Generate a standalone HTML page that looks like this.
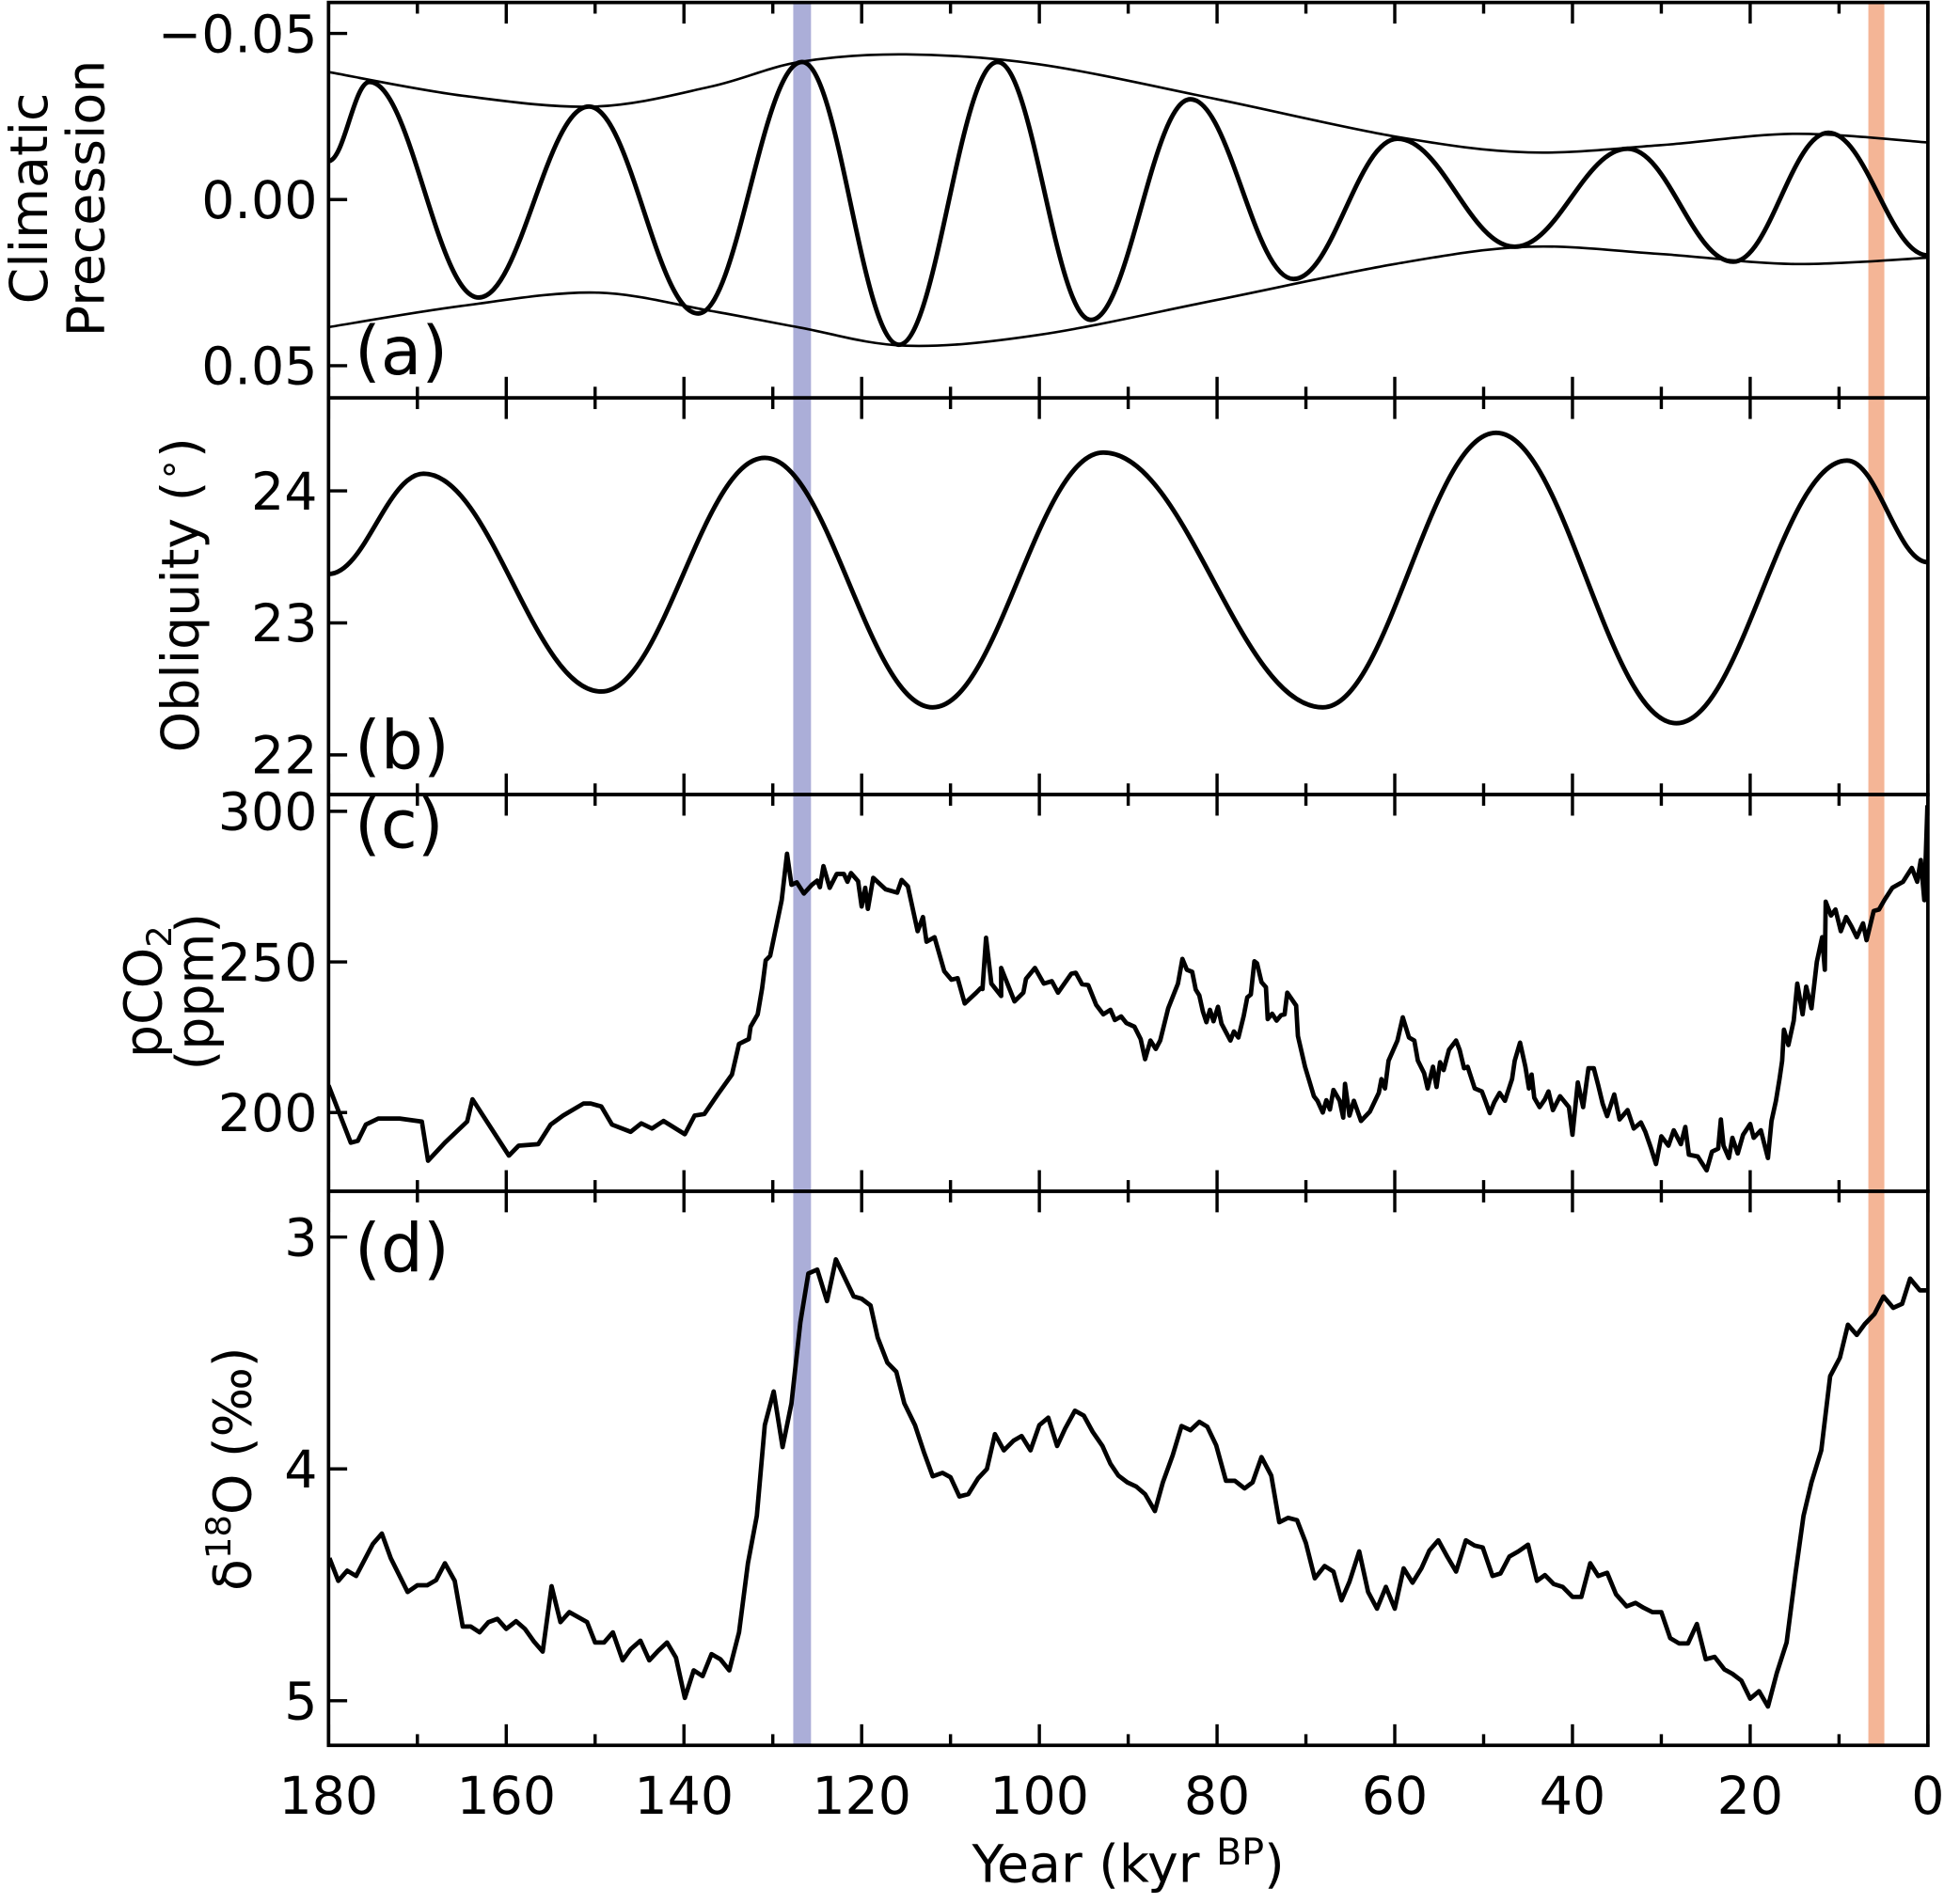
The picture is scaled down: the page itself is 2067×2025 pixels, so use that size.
<!DOCTYPE html>
<html><head><meta charset="utf-8"><title>Orbital forcing, CO2 and δ18O</title>
<style>
html,body{margin:0;padding:0;background:#fff;}
svg{display:block;font-family:"DejaVu Sans","Liberation Sans",sans-serif;}
</style></head>
<body>
<svg id="chart" xmlns="http://www.w3.org/2000/svg" width="2067" height="2025" viewBox="0 0 1568 1536" preserveAspectRatio="none">
<defs>
<clipPath id="clipA"><rect x="265" y="2" width="1290" height="319"/></clipPath>
<clipPath id="clipB"><rect x="265" y="321" width="1290" height="320"/></clipPath>
<clipPath id="clipC"><rect x="265" y="641" width="1290" height="320"/></clipPath>
<clipPath id="clipD"><rect x="265" y="961" width="1290" height="447"/></clipPath>
</defs>
<g id="bands"></g>
<g id="series"></g>
<g id="axes"></g>
<g id="labels">
<text transform="translate(38,160) rotate(-90)" text-anchor="middle" font-size="42">Climatic</text>
<text transform="translate(84,160) rotate(-90)" text-anchor="middle" font-size="42">Precession</text>
<text transform="translate(160,480) rotate(-90)" text-anchor="middle" font-size="42">Obliquity (<tspan font-size="30" dy="-14">∘</tspan><tspan dy="14">)</tspan></text>
<text transform="translate(130,800) rotate(-90)" text-anchor="middle" font-size="42">pCO<tspan font-size="28" dy="8">2</tspan></text>
<text transform="translate(172,800) rotate(-90)" text-anchor="middle" font-size="42">(ppm)</text>
<text transform="translate(202,1185) rotate(-90)" text-anchor="middle" font-size="42">δ<tspan font-size="28" dy="-16">18</tspan><tspan dy="16">O (‰)</tspan></text>
<text x="910" y="1518" text-anchor="middle" font-size="42">Year (kyr <tspan font-size="30" dy="-14">BP</tspan><tspan dy="14">)</tspan></text>
<text x="286" y="302" font-size="54">(a)</text>
<text x="286" y="620" font-size="54">(b)</text>
<text x="286" y="684" font-size="54">(c)</text>
<text x="286" y="1026" font-size="54">(d)</text>
</g>
</svg>
<script>
// ---- data ----
const precExtremaKyr = [180, 175.4, 163.1, 150.7, 138.4, 126.7, 115.8, 104.7, 94.2, 83.0, 71.4, 59.7, 46.5, 33.8, 21.9, 11.2, 0];
const precExtremaVal = [-0.0116, -0.0354, 0.0295, -0.028, 0.0343, -0.0414, 0.0437, -0.0414, 0.0362, -0.0302, 0.0239, -0.0183, 0.0142, -0.0153, 0.0187, -0.0201, 0.0168];
const envKyr = [180, 165, 150, 137, 127, 115, 100, 80, 60, 45, 30, 15, 0];
const envUpper = [-0.0384, -0.0313, -0.028, -0.034, -0.0414, -0.0437, -0.0407, -0.0302, -0.019, -0.0142, -0.0164, -0.0198, -0.0172];
const envLower = [0.0384, 0.032, 0.028, 0.0335, 0.0385, 0.044, 0.0407, 0.0302, 0.0194, 0.0142, 0.0164, 0.0194, 0.0175];
const oblExtremaKyr = [180, 169.3, 149.3, 130.9, 112.0, 92.8, 68.1, 48.6, 28.3, 9.1, 0];
const oblExtremaVal = [23.37, 24.13, 22.48, 24.25, 22.36, 24.29, 22.36, 24.44, 22.24, 24.23, 23.46];
const co2Kyr = [180,177.5,176.7,175.8,174.4,172,169.5,168.8,166.9,164.4,163.8,159.7,158.6,156.4,155,153.6,151.3,150.5,149.3,148.1,146,144.8,143.6,142.3,139.9,138.8,137.7,136.2,134.6,133.8,132.7,132.5,131.7,131.2,130.8,130.3,129,128.4,127.9,127.3,126.5,125.6,125,124.7,124.3,123.6,122.8,122,121.6,121.2,120.4,120,119.6,119.3,118.7,117.3,116,115.5,114.8,113.7,113.1,112.7,111.8,110.7,109.9,109.2,108.4,107.1,106.6,106.4,106,105.4,104.3,104.3,102.8,101.8,101.5,100.5,99.5,98.6,97.9,96.4,95.9,95.2,94.5,93.6,92.8,92,91.5,90.8,90.2,89.3,88.6,88.1,87.5,86.9,86.4,85.5,84.4,83.9,83.4,82.8,82.4,82,81.6,81.2,80.8,80.4,79.9,79.5,78.5,78.1,77.6,77,76.6,76.2,75.8,75.5,75,74.5,74.3,73.8,73.3,72.8,72.4,72.1,71.1,70.9,70.1,69.1,68.7,68.1,67.7,67.3,66.9,66.2,65.8,65.6,65.1,64.6,63.8,62.8,61.8,61.5,61.1,60.7,59.7,59.1,58.4,57.8,57.4,56.7,56.3,55.7,55.3,54.9,54.5,53.9,53.1,52.7,52.2,51.8,51,50.2,49.8,49.3,48.8,48.2,47.6,46.8,46.5,45.9,45.3,44.9,44.6,44.3,43.7,43.1,42.7,42.2,41.4,40.4,40,39.4,38.8,38.2,37.6,37.1,36.6,36.1,35.3,34.7,33.8,33.1,32.3,31.8,31.2,30.6,30,29.2,28.6,27.8,27.3,26.9,25.9,24.9,24.3,23.6,23.3,23,22.4,22,21.4,20.8,20,19.6,18.8,18,17.6,17.1,16.7,16.4,16.2,15.7,15.1,14.7,14.1,13.7,13.1,12.5,11.9,11.6,11.5,10.9,10.4,9.8,9.2,8.6,8,7.3,6.9,6.1,5.5,4.9,4,2.8,1.8,1.2,0.8,0.4,0.05];
const co2Ppm = [209,190,190.6,196,198,198,197,184,190,197,204.4,185.7,189,189.5,196,199,203,203,202,196,193.6,196.4,194.7,197.2,192.8,199,199.5,206,212.6,222.8,224.4,228.5,232.6,241.3,250.5,252,270.5,285.9,275.6,276.4,272.7,275.6,277,274.8,281.8,274.6,279.2,279.2,276.6,279.5,276.8,268.4,274.6,267.6,277.9,274.1,273,277.2,275.1,260.2,264.9,256.7,258.2,246.9,244.1,244.6,236.2,239.8,241.3,241,258,242.8,238.7,248,236.9,239.8,244.4,248,242.8,243.6,239.8,246.1,246.4,242.6,242.3,235.7,232.6,234.1,230.7,231.9,229.7,228.5,224.4,217.7,223.9,221.1,223.9,234.6,242.8,251,247.4,246.7,240.8,238.9,233.6,230,234.1,230.3,235.1,229.5,223.9,226.9,224.9,232.1,238.2,239.2,250.2,249.5,243.3,241.6,231,232.8,230.5,232.3,232.6,239.8,235.5,225.4,215.2,205.4,203.9,200,204.1,201,207.5,203.9,198.3,209.5,199,203.9,197.2,200.3,206.5,211.1,208,217.2,223.9,231.6,224.9,223.9,217.2,213.1,208,215.2,208.5,216.7,214.1,220.8,223.9,220.8,214.7,215.2,208,207,203.9,199.8,203.4,206.5,203.9,211.1,217.2,223.2,215.2,208,212.6,204.9,201.8,204.4,207,200.8,205.4,201.8,192.6,210,201.8,214.7,214.7,209,202.9,198.8,206,197.7,200.8,194.7,196.7,193.6,188.5,182.9,192.1,189,194.1,189.5,195.2,186,185.4,180.8,187,188,197.7,189,184.9,191.6,186.4,192.6,196.2,191.6,194.1,184.9,197.2,203.9,211.1,217.2,227.5,222.4,230.5,242.8,232.6,241.8,234.6,250,258.2,247.4,270,265.4,267.4,260.2,264.9,261.8,258.2,262.8,257.2,266.9,267.4,270.5,274.6,276.6,281.2,276.6,283.8,270.5,302];
const d18oKyr = [179.9,178.9,177.9,176.9,175,174,173,171.1,170,168.9,167.9,166.9,165.8,164.9,164,163,162,161,160,158.9,157.9,156.9,155.9,154.9,153.9,152.9,150.9,150,149,148,146.9,146,144.9,143.9,142.9,141.9,140.9,139.9,138.9,137.9,136.9,135.9,134.9,133.8,132.8,131.8,130.9,129.9,128.9,127.9,126.9,126,125,123.9,122.9,120.9,120,119,118.2,117.1,116.1,115.2,114,113,112,110.9,110,109,108,106.9,105.9,105,104,102.9,102,101,100,99,98,97.1,96,95,94,92.9,92,91.1,90.1,89.1,88.1,87,86.1,85,84,83,82,81.1,80.1,79,78,76.9,76,75,73.9,73,72,71,70,69,67.9,66.9,66,65.1,64,63,62,61,60,59,58,57,56.1,55.1,54.1,53.1,52,51,50.1,49,48.1,47.1,46.1,45,44,43.1,42.1,41.1,40,39,38,37.1,36.1,35.1,33.9,32.9,32,31,30,29,28,27,26,25,24,22.9,22,21,20,19,18,17,15.9,14.9,14,13.1,12,11,9.9,9,8,7.1,6,5,3.9,2.9,2,0.9,0.2];
const d18oVal = [4.385,4.483,4.439,4.462,4.323,4.279,4.385,4.531,4.502,4.502,4.48,4.407,4.483,4.68,4.68,4.705,4.661,4.647,4.69,4.657,4.69,4.744,4.788,4.506,4.661,4.618,4.661,4.749,4.749,4.705,4.826,4.778,4.741,4.826,4.785,4.749,4.814,4.988,4.869,4.894,4.799,4.821,4.869,4.705,4.407,4.203,3.811,3.666,3.906,3.717,3.368,3.157,3.14,3.276,3.096,3.256,3.266,3.295,3.433,3.542,3.581,3.717,3.811,3.927,4.032,4.017,4.036,4.119,4.109,4.041,4,3.85,3.92,3.878,3.858,3.92,3.811,3.779,3.901,3.826,3.749,3.77,3.84,3.901,3.978,4.029,4.058,4.076,4.109,4.182,4.058,3.942,3.815,3.833,3.797,3.818,3.898,4.051,4.051,4.084,4.058,3.949,4.029,4.23,4.211,4.221,4.32,4.472,4.419,4.443,4.567,4.487,4.356,4.531,4.603,4.509,4.603,4.429,4.491,4.429,4.352,4.308,4.378,4.443,4.308,4.331,4.339,4.462,4.451,4.378,4.356,4.327,4.483,4.458,4.497,4.509,4.552,4.552,4.407,4.462,4.448,4.541,4.593,4.578,4.599,4.618,4.618,4.73,4.753,4.753,4.669,4.821,4.811,4.865,4.884,4.913,4.991,4.959,5.025,4.88,4.749,4.451,4.203,4.058,3.92,3.6,3.52,3.378,3.422,3.375,3.331,3.256,3.305,3.288,3.179,3.23,3.23];
const xTicks = [180,160,140,120,100,80,60,40,20,0];
const precTicks = [-0.05, 0, 0.05];
const precTickLabels = ["\u22120.05","0.00","0.05"];
const oblTicks = [22,23,24];
const co2Ticks = [200,250,300];
const d18oTicks = [3,4,5];
const bandBlue = [127.7, 125.7];
const bandOrange = [6.7, 4.9];

// ---- scales ----
const L = 265, R = 1555;
const xs = k => R - (k / 180) * (R - L);
const panels = {
  a:{top:2,bottom:321,y:v=>161+v*2680,clip:"clipA"},
  b:{top:321,bottom:641,y:v=>396+(24-v)*106.5,clip:"clipB"},
  c:{top:641,bottom:961,y:v=>776+(250-v)*2.43,clip:"clipC"},
  d:{top:961,bottom:1408,y:v=>1185+(v-4)*187,clip:"clipD"}
};
const NS = "http://www.w3.org/2000/svg";
function mk(tag, attrs, parent){
  const e = document.createElementNS(NS, tag);
  for (const k in attrs) e.setAttribute(k, attrs[k]);
  parent.appendChild(e); return e;
}
const gBands = document.getElementById('bands');
const gSeries = document.getElementById('series');
const gAxes = document.getElementById('axes');

let b1 = mk('rect',{x:xs(bandBlue[0]),y:2,width:xs(bandBlue[1])-xs(bandBlue[0]),height:1406,fill:'#abaed8'},gBands);


let b2 = mk('rect',{x:xs(bandOrange[0]),y:2,width:xs(bandOrange[1])-xs(bandOrange[0]),height:1406,fill:'#f4b596'},gBands);



function extremaPath(ks, vs, yf){
  let d = 'M'+xs(ks[0]).toFixed(2)+','+yf(vs[0]).toFixed(2);
  for (let i=1;i<ks.length;i++){
    const x0=xs(ks[i-1]), x1=xs(ks[i]), y0=yf(vs[i-1]), y1=yf(vs[i]);
    const dx=(x1-x0)*0.38;
    d += ' C'+(x0+dx).toFixed(2)+','+y0.toFixed(2)+' '+(x1-dx).toFixed(2)+','+y1.toFixed(2)+' '+x1.toFixed(2)+','+y1.toFixed(2);
  }
  return d;
}
function catmull(ks, vs, yf){
  const P = ks.map((k,i)=>[xs(k), yf(vs[i])]);
  let d='M'+P[0][0].toFixed(2)+','+P[0][1].toFixed(2);
  for (let i=0;i<P.length-1;i++){
    const p0=P[Math.max(0,i-1)], p1=P[i], p2=P[i+1], p3=P[Math.min(P.length-1,i+2)];
    const c1=[p1[0]+(p2[0]-p0[0])/6, p1[1]+(p2[1]-p0[1])/6];
    const c2=[p2[0]-(p3[0]-p1[0])/6, p2[1]-(p3[1]-p1[1])/6];
    d+=' C'+c1[0].toFixed(2)+','+c1[1].toFixed(2)+' '+c2[0].toFixed(2)+','+c2[1].toFixed(2)+' '+p2[0].toFixed(2)+','+p2[1].toFixed(2);
  }
  return d;
}
function linePath(ks, vs, yf){
  return ks.map((k,i)=>(i?'L':'M')+xs(k).toFixed(2)+','+yf(vs[i]).toFixed(2)).join(' ');
}

let p;
p = mk('path',{d:catmull(envKyr,envUpper,panels.a.y),fill:'none',stroke:'#000','stroke-width':2,'clip-path':'url(#clipA)'},gSeries);


p = mk('path',{d:catmull(envKyr,envLower,panels.a.y),fill:'none',stroke:'#000','stroke-width':2,'clip-path':'url(#clipA)'},gSeries);


p = mk('path',{d:extremaPath(precExtremaKyr,precExtremaVal,panels.a.y),fill:'none',stroke:'#000','stroke-width':3.7,'clip-path':'url(#clipA)'},gSeries);


p = mk('path',{d:extremaPath(oblExtremaKyr,oblExtremaVal,panels.b.y),fill:'none',stroke:'#000','stroke-width':3.7,'clip-path':'url(#clipB)'},gSeries);


p = mk('path',{d:linePath(co2Kyr,co2Ppm,panels.c.y),fill:'none',stroke:'#000','stroke-width':3.6,'stroke-linejoin':'round','clip-path':'url(#clipC)'},gSeries);


p = mk('path',{d:linePath(d18oKyr,d18oVal,panels.d.y),fill:'none',stroke:'#000','stroke-width':3.6,'stroke-linejoin':'round','clip-path':'url(#clipD)'},gSeries);



const yTickSets = {a:[precTicks,precTickLabels],b:[oblTicks,oblTicks.map(String)],c:[co2Ticks,co2Ticks.map(String)],d:[d18oTicks,d18oTicks.map(String)]};
for (const key of ['a','b','c','d']){
  const P = panels[key];
  let fr = mk('rect',{x:L,y:P.top,width:R-L,height:P.bottom-P.top,fill:'none',stroke:'#000','stroke-width':2.8},gAxes);
  
  
  for (let k=0;k<=180;k+=10){
    const major = k%20===0;
    const len = major?17:9;
    const x = xs(k);
    let t1 = mk('line',{x1:x,x2:x,y1:P.top,y2:P.top+len,stroke:'#000','stroke-width':2.6},gAxes);
    
    
    let t2 = mk('line',{x1:x,x2:x,y1:P.bottom,y2:P.bottom-len,stroke:'#000','stroke-width':2.6},gAxes);
    
    
  }
  const [vals,labs] = yTickSets[key];
  vals.forEach((v,i)=>{
    const y = P.y(v);
    let t = mk('line',{x1:L,x2:L+15,y1:y,y2:y,stroke:'#000','stroke-width':2.6},gAxes);
    
    
    let tx = mk('text',{x:256,y:y+15,'text-anchor':'end','font-size':42},gAxes);
    tx.textContent = labs[i];
    
    
  });
}
xTicks.forEach(k=>{
  let tx = mk('text',{x:xs(k),y:1463,'text-anchor':'middle','font-size':42},gAxes);
  tx.textContent = String(k);
  
  
});
</script>
</body></html>
